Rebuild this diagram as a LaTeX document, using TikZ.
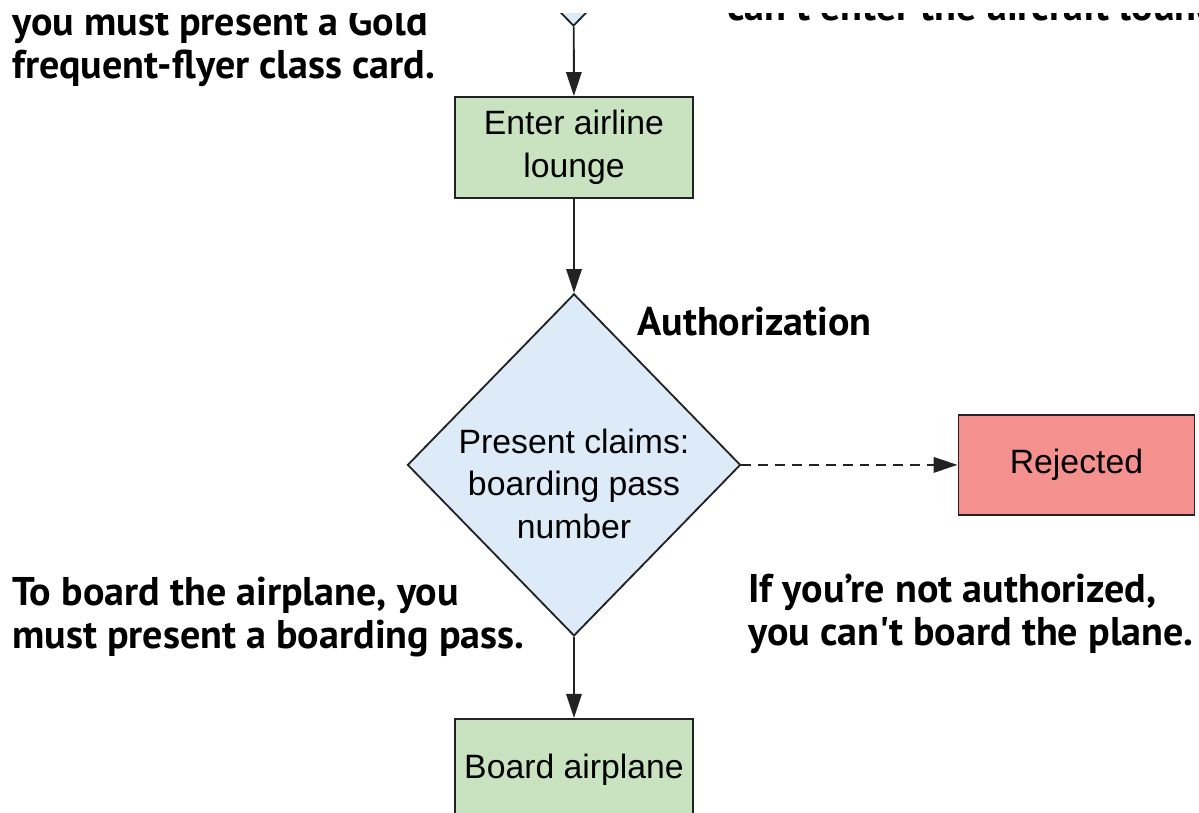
\documentclass[tikz,border=0pt]{standalone}
\usepackage{fontspec}
\setmainfont{Liberation Sans}
\newfontfamily\notefont{PT Sans}
\usetikzlibrary{positioning, shapes, arrows.meta}
\definecolor{flowStep}{HTML}{C9E2BF}
\definecolor{flowCheck}{HTML}{DDEBF8}
\definecolor{flowReject}{HTML}{F4918E}
\definecolor{flowLine}{HTML}{222222}

\begin{document}
\begin{tikzpicture}[x=0.025cm, y=-0.025cm,
  box/.style={draw=flowLine, line width=1.3pt, align=center, font=\fontsize{24}{30.5}\selectfont, minimum width=5.95cm, minimum height=2.525cm, inner sep=0pt},
  check/.style={draw=flowLine, line width=1.3pt, diamond, fill=flowCheck, minimum width=8.325cm, minimum height=8.55cm, inner sep=0pt},
  note/.style={align=left, anchor=west, inner sep=0pt, font=\notefont\bfseries\fontsize{28.5}{31}\selectfont},
  arr/.style={-{Triangle[length=17pt, width=11pt]}, line width=1.3pt, draw=flowLine}
]
\useasboundingbox (0,0) rectangle (1199,813);
\clip (0,14) rectangle (1199,813);

\node[check] (authn) at (573.5,-145) {};
\node[box, fill=flowStep] (lounge) at (574,147.5) {Enter airline\\lounge};
\node[check, below=2.35cm of lounge] (chk) {};
\node[align=center, font=\fontsize{24}{30.5}\selectfont] (chktxt) at ([yshift=-0.475cm]chk.center) {Present claims:\\boarding pass\\number};
\node[box, fill=flowReject, minimum width=5.9cm, minimum height=2.5cm, right=5.4cm of chk] (rej) {Rejected};
\node[box, fill=flowStep, below=2.025cm of chk] (board) {\raisebox{3pt}{Board airplane}};

\draw[arr] (authn) -- (lounge);
\draw[arr] (lounge) -- (chk);
\draw[arr, dash pattern=on 7pt off 5pt] (chk) -- (rej);
\draw[arr] (chk) -- (board);

% annotations
\node[note] (goldnote) at (12,47) {you must present a Gold\\frequent-flyer class card.};
\node[note, anchor=base west] (loungenote) at (727,21) {can't enter the aircraft lounge.};
\node[note] (authznote) at (637,322) {Authorization};
\node[note] (boardnote) at (12,617) {To board the airplane, you\\must present a boarding pass.};
\node[note] (rejnote) at (748,614) {If you’re not authorized,\\you can't board the plane.};
\end{tikzpicture}
\end{document}
